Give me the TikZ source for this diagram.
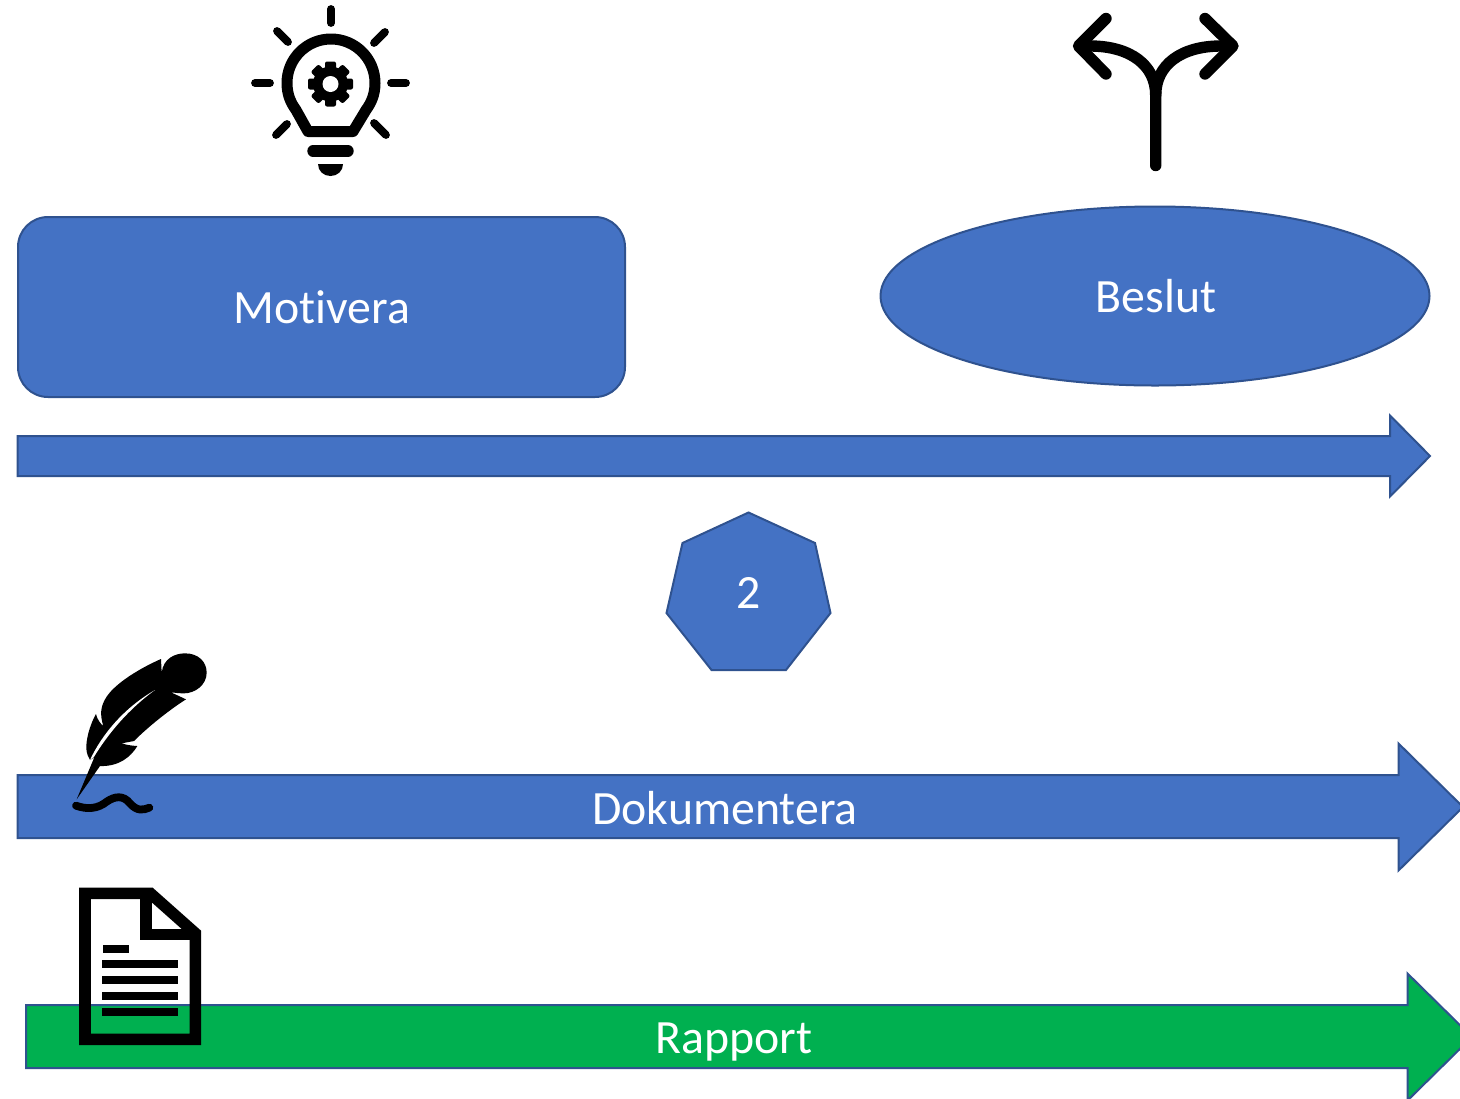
\documentclass[tikz,border=0pt]{standalone}
\usepackage{fontspec}
\setmainfont[RawFeature={-liga;-clig}]{Carlito}
\usetikzlibrary{shapes.geometric}
\definecolor{shapeblue}{HTML}{4472C4}
\definecolor{edgeblue}{HTML}{2F528F}
\definecolor{shapegreen}{HTML}{00B050}
\tikzset{
  x=0.5pt,y=-0.5pt,
  blueshape/.style={fill=shapeblue,draw=edgeblue,line width=1pt},
  greenshape/.style={fill=shapegreen,draw=edgeblue,line width=1pt},
  label/.style={text=white,inner sep=0pt,font=\fontsize{23.9}{28}\selectfont},
  ray/.style={draw=black,line width=3.9pt,line cap=round},
  icon/.style={draw=black,line width=5.7pt,line cap=round,line join=round},
  zoomed/.style={x=0.16667pt,y=-0.16667pt},
}
\begin{document}
\begin{tikzpicture}
\useasboundingbox (0,0) rectangle (1460,1098);
\clip (0,0) rectangle (1460,1098);

% Boxes
\node[blueshape,rounded corners=15pt,minimum width=303.5pt,minimum height=90pt,inner sep=0pt] (motivera) at (321.5,307) {};
\node[label] (motiveratext) at (322,307) {Motivera};
\node[blueshape,ellipse,minimum width=274.5pt,minimum height=89.5pt,inner sep=0pt] (beslut) at (1155,296) {};
\node[label] (beslutttext) at (1156,296) {Beslut};

% Top arrow
\draw[blueshape] (17.5,436) -- (1390,436) -- (1390,415.5) -- (1430,456) -- (1390,496.5) -- (1390,476) -- (17.5,476) -- cycle;

% Heptagon
\draw[blueshape] (748.5,512.5) -- (815,543) -- (830.5,613) -- (786,670) -- (711.5,670) -- (666.5,613) -- (682.5,543) -- cycle;
\node[label] (num) at (749,593) {2};

% Dokumentera arrow
\draw[blueshape] (17.5,775) -- (1398.5,775) -- (1398.5,743.5) -- (1463,807) -- (1398.5,870.5) -- (1398.5,838) -- (17.5,838) -- cycle;
\node[label] (dok) at (725,808) {Dokumentera};

% Rapport arrow
\draw[greenshape] (26,1005) -- (1407.5,1005) -- (1407.5,973.5) -- (1472,1037) -- (1407.5,1100.5) -- (1407.5,1068) -- (26,1068) -- cycle;
\node[label] (rap) at (734,1042) {Rapport};

% Light bulb
\draw[ray] (331,9) -- (331,23);
\draw[ray] (277,31) -- (288,42);
\draw[ray] (385,32) -- (374,43);
\draw[ray] (255,83) -- (270,83);
\draw[ray] (391,83) -- (406,83);
\draw[ray] (287,124) -- (276,135);
\draw[ray] (374,123) -- (386,135);
\draw[icon,line width=5.5pt] (308,131.5) -- (353,131.5) -- (366,110)
  .. controls (371,103) and (375,95) .. (375,83)
  .. controls (375,58.7) and (355.3,39) .. (331,39)
  .. controls (306.7,39) and (287,58.7) .. (287,83)
  .. controls (287,95) and (291,103) .. (296,110) -- cycle;
\draw[icon] (313,151) -- (348,151);
\fill (318,164) -- (343,164) .. controls (343,171) and (337.5,176) .. (330.5,176) .. controls (323.5,176) and (318,171) .. (318,164) -- cycle;
% Gear
\fill (330.5,84) circle[radius=17.5];
\foreach \a in {0,45,...,315}{
  \fill[rotate around={\a:(330.5,84)},rounded corners=1pt] (325,61.5) rectangle (336,72);
}
\fill[white] (330.5,84) circle[radius=8];

% Forking arrow
\draw[icon] (1155.7,165.5) -- (1155.7,95) .. controls (1155.7,65) and (1130,46) .. (1090,46) -- (1080,46);
\draw[icon] (1155.7,95) .. controls (1155.7,65) and (1181,46) .. (1221,46) -- (1232,46);
\draw[icon] (1106,18.5) -- (1078.5,46) -- (1106,74);
\draw[icon] (1205,18.5) -- (1233,46) -- (1205,74);

% Feather
\begin{scope}[shift={(60,640)},zoomed]
\fill (50,478) -- (103,352) -- (90,360) .. controls (78,340) and (75,320) .. (85,280)
  .. controls (90,260) and (100,235) .. (108,222) .. controls (112,238) and (120,250) .. (130,258)
  .. controls (120,225) and (120,200) .. (140,170) .. controls (170,125) and (250,80) .. (303,57)
  -- (305,98) .. controls (310,55) and (345,40) .. (375,40) .. controls (415,40) and (440,65) .. (440,98)
  .. controls (440,135) and (405,160) .. (372,160) .. controls (355,160) and (345,158) .. (333,157)
  -- (378,178) .. controls (335,205) and (270,255) .. (222,303)
  -- (185,310) .. controls (200,315) and (215,317) .. (232,318)
  .. controls (212,352) and (175,380) .. (120,378) -- cycle;
\fill[white] (90,360) .. controls (125,285) and (190,205) .. (285,150) .. controls (205,208) and (145,280) .. (101,352) -- cycle;
\draw[black,line width=3.9pt,line cap=round] (48,497) .. controls (85,510) and (115,505) .. (140,485)
  .. controls (165,468) and (190,465) .. (210,490) .. controls (232,515) and (250,510) .. (268,503);
\end{scope}

% Document
\begin{scope}[shift={(60,880)},zoomed]
\draw[black,line width=5.8pt,line join=miter] (75,40) -- (271,40) -- (406,160) -- (406,478) -- (75,478) -- cycle;
\draw[black,line width=5.8pt,line cap=butt] (258,35) -- (258,163) -- (400,163);
\fill (129,195) rectangle (207,218);
\fill (126,240) rectangle (354,263);
\fill (126,288) rectangle (354,312);
\fill (126,336) rectangle (354,360);
\fill (126,384) rectangle (354,408);
\end{scope}
\end{tikzpicture}
\end{document}
